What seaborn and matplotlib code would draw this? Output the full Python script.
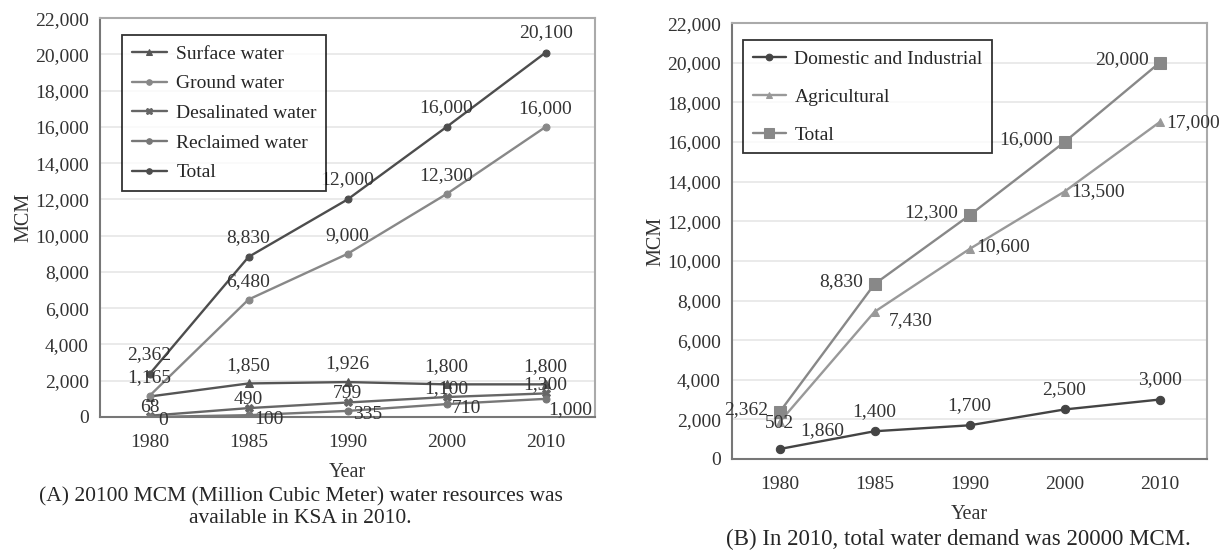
import numpy as np
import pandas as pd
import seaborn as sns
import matplotlib.pyplot as plt

# data
years = ['1980', '1985', '1990', '2000', '2010']

# (A) water resources
surface = [1129, 1850, 1926, 1800, 1800]
ground = [1165, 6480, 9000, 12300, 16000]
desalinated = [68, 490, 799, 1100, 1300]
reclaimed = [0, 100, 335, 710, 1000]
total_res = [2362, 8830, 12000, 16000, 20100]

# (B) water demand
domestic = [502, 1400, 1700, 2500, 3000]
agricultural = [1860, 7430, 10600, 13500, 17000]
total_dem = [2362, 8830, 12300, 16000, 20000]

yticks = np.arange(0, 22001, 2000)

sns.set_style('whitegrid')
plt.rcParams['font.family'] = ['Liberation Serif', 'DejaVu Serif']
plt.rcParams['font.size'] = 14

fig = plt.figure(figsize=(12.27, 5.52), dpi=100)
axA = fig.add_axes([0.0815, 0.2446, 0.4035, 0.7225])
axB = fig.add_axes([0.5966, 0.1685, 0.3871, 0.7895])

x = np.arange(len(years))


def fmt(v):
    return f'{v:,}'


def draw(ax, vals, name, color, marker, ms, labels, offset, ha='center', va='bottom'):
    sns.lineplot(x=x, y=vals, ax=ax, color=color, marker=marker, markersize=ms,
                 markeredgecolor=color, linewidth=1.7, label=name)
    for i, v in enumerate(vals):
        if labels[i] is None:
            continue
        off = offset[i] if isinstance(offset, list) else offset
        ax.annotate(labels[i], (x[i], v), xytext=off, textcoords='offset points',
                    ha=ha, va=va, fontsize=14, color='#333333')


def style_axes(ax):
    ax.set_xlim(-0.48, 4.5)
    ax.set_ylim(0, 22000)
    ax.set_yticks(yticks)
    ax.set_yticklabels([fmt(v) for v in yticks], fontsize=14, color='#333333')
    ax.set_xticks(x)
    ax.set_xticklabels(years, fontsize=14, color='#333333')
    ax.set_xticks(np.arange(-0.5, 5, 1), minor=True)
    ax.tick_params(axis='x', which='major', length=0, pad=12)
    ax.tick_params(axis='x', which='minor', length=6, color='#bbbbbb', direction='out')
    ax.tick_params(axis='y', length=0, pad=8)
    ax.grid(axis='x', visible=False)
    ax.grid(axis='y', color='#e6e6e6', linewidth=1.2)
    for s in ['top', 'right']:
        ax.spines[s].set_color('#aaaaaa')
        ax.spines[s].set_linewidth(1.5)
    for s in ['left', 'bottom']:
        ax.spines[s].set_color('#777777')
        ax.spines[s].set_linewidth(1.5)
    ax.set_xlabel('Year', fontsize=14.5, labelpad=9, color='#333333')
    ax.set_ylabel('MCM', fontsize=14.5, labelpad=1, color='#333333')


# panel A
draw(axA, surface, 'Surface water', '#555555', '^', 6,
     [None] + [fmt(v) for v in surface[1:]], (0, 7))
draw(axA, ground, 'Ground water', '#888888', 'o', 5,
     [fmt(v) for v in ground], (0, 7))
draw(axA, desalinated, 'Desalinated water', '#666666', 'X', 6,
     [fmt(v) for v in desalinated], (0, 0))
draw(axA, reclaimed, 'Reclaimed water', '#777777', 'o', 5,
     [fmt(v) for v in reclaimed], [(6, -9), (4, -9), (4, -9), (4, -9), (2, -14)],
     ha='left', va='bottom')
draw(axA, total_res, 'Total', '#4d4d4d', 'o', 5,
     [fmt(v) for v in total_res], (0, 8))
style_axes(axA)
legA = axA.legend(loc='upper left', bbox_to_anchor=(0.044, 0.957), borderaxespad=0,
                  frameon=True, fancybox=False, edgecolor='black', fontsize=14,
                  handlelength=1.8, labelspacing=0.62, borderpad=0.5, handletextpad=0.5,
                  markerscale=0.8)
legA.get_frame().set_linewidth(1.3)
fig.text(0.245, 0.08, '(A) 20100 MCM (Million Cubic Meter) water resources was\navailable in KSA in 2010.',
         ha='center', va='center', fontsize=15.5, linespacing=1.15)

# panel B
draw(axB, domestic, 'Domestic and Industrial', '#444444', 'o', 6,
     [fmt(v) for v in domestic], [(0, 12)] + [(0, 8)] * 4)
draw(axB, agricultural, 'Agricultural', '#999999', '^', 6,
     [fmt(v) for v in agricultural], [(15, -6), (10, -6), (5, 2), (5, 0), (5, 0)],
     ha='left', va='center')
draw(axB, total_dem, 'Total', '#888888', 's', 9,
     [fmt(v) for v in total_dem], (-8, 2), ha='right', va='center')
style_axes(axB)
legB = axB.legend(loc='upper left', bbox_to_anchor=(0.023, 0.961), borderaxespad=0,
                  frameon=True, fancybox=False, edgecolor='black', fontsize=14,
                  handlelength=1.7, labelspacing=1.05, borderpad=0.5, handletextpad=0.45,
                  markerscale=0.8)
legB.get_frame().set_linewidth(1.3)
fig.text(0.781, 0.022, '(B) In 2010, total water demand was 20000 MCM.',
         ha='center', va='center', fontsize=16.5)

fig.savefig('out.png', dpi=100)
